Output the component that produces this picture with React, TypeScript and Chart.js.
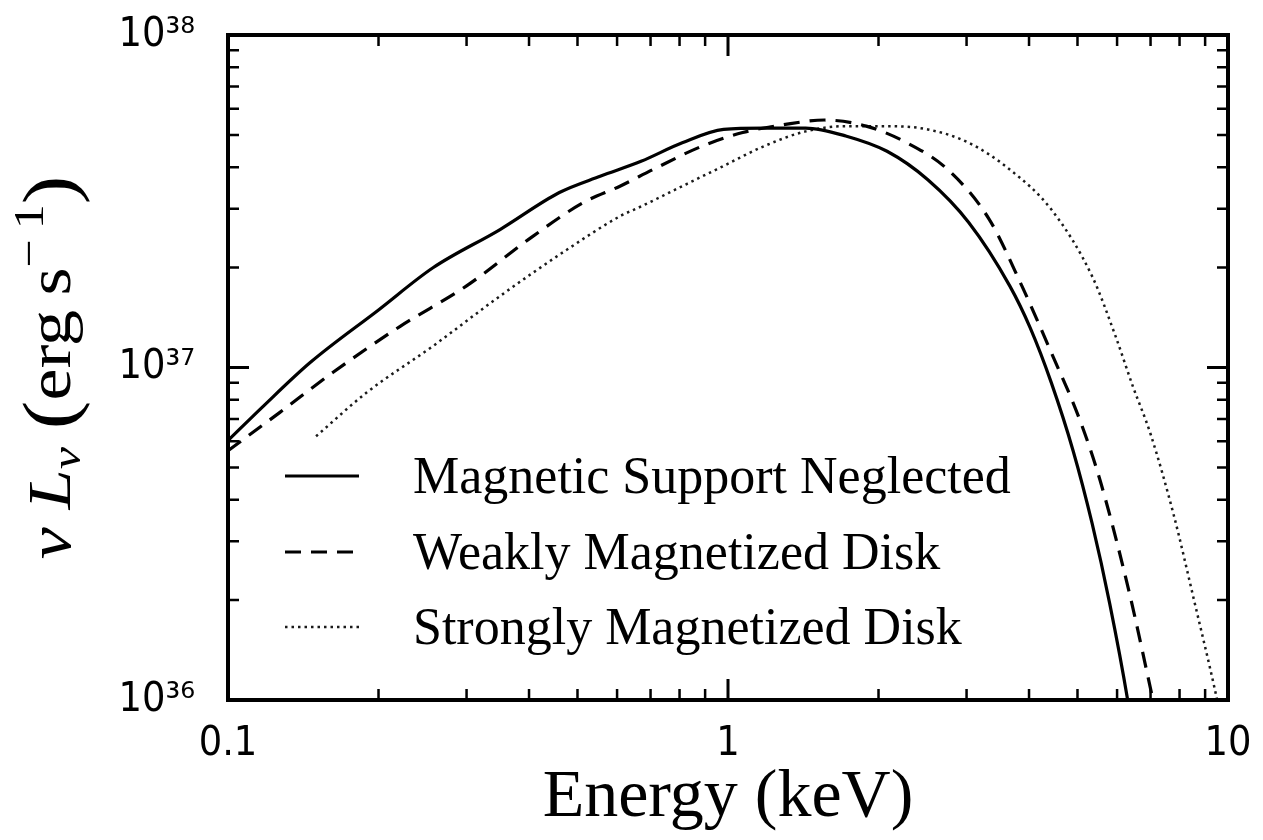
import React, { useEffect, useRef } from 'react';
import { Chart, registerables } from 'chart.js';

Chart.register(...registerables);

// ---- data ----
const neglectedEnergy = [0.1, 0.117, 0.146, 0.2, 0.257, 0.35, 0.46, 0.555, 0.67, 0.81, 0.98, 1.18, 1.43, 1.72, 2.08, 2.51, 3.03, 3.66, 4.02, 4.43, 4.9, 5.35, 5.8, 6.3, 6.45];
const neglectedLum = [6.03e36, 7.59e36, 1.035e37, 1.49e37, 1.995e37, 2.6e37, 3.36e37, 3.76e37, 4.17e37, 4.74e37, 5.2e37, 5.25e37, 5.25e37, 4.97e37, 4.47e37, 3.67e37, 2.73e37, 1.76e37, 1.318e37, 9.02e36, 5.62e36, 3.39e36, 1.95e36, 1.0e36, 0.79e36];

const weakEnergy = [0.1, 0.127, 0.162, 0.221, 0.3, 0.407, 0.513, 0.608, 0.708, 0.887, 1.07, 1.29, 1.56, 1.89, 2.28, 2.75, 3.33, 3.87, 4.43, 5.05, 5.55, 6.33, 7.08, 7.25];
const weakLum = [5.62e36, 7.33e36, 9.66e36, 1.33e37, 1.76e37, 2.48e37, 3.13e37, 3.51e37, 3.94e37, 4.63e37, 5.09e37, 5.37e37, 5.55e37, 5.32e37, 4.74e37, 3.94e37, 2.79e37, 1.76e37, 1.11e37, 6.98e36, 4.57e36, 2.14e36, 1.0e36, 0.85e36];

const strongEnergy = [0.15, 0.189, 0.257, 0.35, 0.476, 0.608, 0.67, 0.81, 0.977, 1.18, 1.43, 1.72, 2.08, 2.51, 3.03, 3.66, 4.43, 5.35, 5.96, 6.45, 7.0, 7.8, 8.55, 9.42, 9.65];
const strongLum = [6.21e36, 8.39e36, 1.16e37, 1.64e37, 2.26e37, 2.85e37, 3.05e37, 3.51e37, 4.03e37, 4.63e37, 5.13e37, 5.32e37, 5.32e37, 5.2e37, 4.74e37, 3.94e37, 2.99e37, 1.88e37, 1.24e37, 8.79e36, 6.31e36, 3.57e36, 2.0e36, 1.07e36, 0.9e36];

const seriesLabels = ['Magnetic Support Neglected', 'Weakly Magnetized Disk', 'Strongly Magnetized Disk'];

const xTickValues = [0.1, 0.2, 0.3, 0.4, 0.5, 0.6, 0.7, 0.8, 0.9, 1, 2, 3, 4, 5, 6, 7, 8, 9, 10];
const xMajorTicks = [0.1, 1, 10];
const xMajorLabels = ['0.1', '1', '10'];

const yTickValues = [1e36, 2e36, 3e36, 4e36, 5e36, 6e36, 7e36, 8e36, 9e36, 1e37, 2e37, 3e37, 4e37, 5e37, 6e37, 7e37, 8e37, 9e37, 1e38];
const yMajorTicks = [1e36, 1e37, 1e38];
const yMajorLabels = ['10\u00B3\u2076', '10\u00B3\u2077', '10\u00B3\u2078'];

const xTitle = 'Energy (keV)';

const SERIF = "'Liberation Serif', 'Times New Roman', serif";
const TICKFONT = "'DejaVu Sans Condensed', 'DejaVu Sans', sans-serif";

const sameLog = (a: number, b: number) => Math.abs(Math.log10(a) - Math.log10(b)) < 1e-6;

const toPoints = (xs: number[], ys: number[]) => xs.map((x, i) => ({ x, y: ys[i] }));

const zeroPadding = (s: any) => {
  s.paddingLeft = 0;
  s.paddingRight = 0;
  s.paddingTop = 0;
  s.paddingBottom = 0;
};

const framePlugin = {
  id: 'frameTicks',
  afterDatasetsDraw(chart: any) {
    const { ctx, chartArea, scales } = chart;
    const { left, right, top, bottom } = chartArea;
    const xs = scales.x;
    const ys = scales.y;
    ctx.save();
    ctx.strokeStyle = '#000';
    ctx.lineCap = 'butt';
    for (const v of xTickValues) {
      const px = xs.getPixelForValue(v);
      const major = xMajorTicks.some((m) => sameLog(m, v));
      const len = major ? 21 : 11;
      ctx.lineWidth = major ? 3 : 2.5;
      ctx.beginPath();
      ctx.moveTo(px, bottom);
      ctx.lineTo(px, bottom - len);
      ctx.moveTo(px, top);
      ctx.lineTo(px, top + len);
      ctx.stroke();
    }
    for (const v of yTickValues) {
      const py = ys.getPixelForValue(v);
      const major = yMajorTicks.some((m) => sameLog(m, v));
      const len = major ? 21 : 11;
      ctx.lineWidth = major ? 3 : 2.5;
      ctx.beginPath();
      ctx.moveTo(left, py);
      ctx.lineTo(left + len, py);
      ctx.moveTo(right, py);
      ctx.lineTo(right - len, py);
      ctx.stroke();
    }
    ctx.lineWidth = 4;
    ctx.strokeRect(left, top, right - left, bottom - top);
    ctx.restore();
  },
};

const legendPlugin = {
  id: 'insideLegend',
  afterDatasetsDraw(chart: any) {
    const { ctx, chartArea } = chart;
    const { left, top } = chartArea;
    const rows = [441, 517, 592];
    ctx.save();
    chart.data.datasets.forEach((ds: any, i: number) => {
      const y = top + rows[i];
      ctx.beginPath();
      ctx.strokeStyle = ds.borderColor;
      ctx.lineWidth = ds.borderWidth;
      ctx.setLineDash(ds.borderDash || []);
      ctx.moveTo(left + 57, y);
      ctx.lineTo(left + 131, y);
      ctx.stroke();
      ctx.setLineDash([]);
      ctx.fillStyle = '#000';
      ctx.font = `52px ${SERIF}`;
      ctx.textBaseline = 'alphabetic';
      ctx.textAlign = 'left';
      ctx.fillText(ds.label, left + 185, y + 17);
    });
    ctx.restore();
  },
};

const yTitlePlugin = {
  id: 'yTitle',
  afterDraw(chart: any) {
    const { ctx, chartArea } = chart;
    const cy = (chartArea.top + chartArea.bottom) / 2;
    const base = 72;
    const small = 50;
    const parts = [
      { t: '\u03BD', f: `italic ${base}px ${SERIF}`, dy: 0 },
      { t: ' ', f: `${base}px ${SERIF}`, dy: 0 },
      { t: 'L', f: `italic ${base}px ${SERIF}`, dy: 0 },
      { t: '\u03BD', f: `italic ${small}px ${SERIF}`, dy: 12 },
      { t: ' ', f: `${base}px ${SERIF}`, dy: 0 },
      { t: '(', f: `${base + 14}px ${SERIF}`, dy: 5 },
      { t: 'erg', f: `${base}px ${SERIF}`, dy: 0 },
      { t: '\u2009', f: `${base}px ${SERIF}`, dy: 0 },
      { t: 's', f: `${base}px ${SERIF}`, dy: 0 },
      { t: '\u2212\u2009' + '1', f: `${small}px ${SERIF}`, dy: -32 },
      { t: ')', f: `${base + 14}px ${SERIF}`, dy: 5 },
    ];
    ctx.save();
    let total = 0;
    const widths = parts.map((p) => {
      ctx.font = p.f;
      const w = ctx.measureText(p.t).width;
      total += w;
      return w;
    });
    ctx.translate(62, cy);
    ctx.rotate(-Math.PI / 2);
    ctx.scale(1, 0.85);
    ctx.fillStyle = '#000';
    ctx.textBaseline = 'alphabetic';
    ctx.textAlign = 'left';
    let x = -total / 2;
    parts.forEach((p, i) => {
      ctx.font = p.f;
      ctx.fillText(p.t, x, p.dy);
      x += widths[i];
    });
    ctx.restore();
  },
};

export default function App() {
  const ref = useRef<HTMLCanvasElement>(null);

  useEffect(() => {
    if (!ref.current) return;
    const chart = new Chart(ref.current, {
      type: 'line',
      data: {
        datasets: [
          {
            label: seriesLabels[0],
            data: toPoints(neglectedEnergy, neglectedLum),
            borderColor: '#000',
            borderWidth: 3.2,
            pointRadius: 0,
            fill: false,
            cubicInterpolationMode: 'monotone',
          },
          {
            label: seriesLabels[1],
            data: toPoints(weakEnergy, weakLum),
            borderColor: '#000',
            borderWidth: 3.2,
            borderDash: [16, 10],
            pointRadius: 0,
            fill: false,
            cubicInterpolationMode: 'monotone',
          },
          {
            label: seriesLabels[2],
            data: toPoints(strongEnergy, strongLum),
            borderColor: '#1a1a1a',
            borderWidth: 2.5,
            borderDash: [2.5, 4],
            pointRadius: 0,
            fill: false,
            cubicInterpolationMode: 'monotone',
          },
        ],
      } as any,
      options: {
        animation: false,
        responsive: false,
        devicePixelRatio: 1,
        layout: { padding: { top: 27, right: 27, left: 0, bottom: 0 } },
        plugins: { legend: { display: false }, tooltip: { enabled: false } },
        scales: {
          x: {
            type: 'logarithmic',
            position: 'bottom',
            min: 0.1,
            max: 10,
            afterBuildTicks: (s: any) => {
              s.ticks = xTickValues.map((v) => ({ value: v }));
            },
            afterFit: (s: any) => {
              s.height = 132;
              zeroPadding(s);
            },
            grid: { display: false },
            border: { display: false },
            ticks: {
              autoSkip: false,
              maxRotation: 0,
              minRotation: 0,
              padding: 12,
              color: '#000',
              font: { family: TICKFONT, size: 41 },
              callback: (value: any) => {
                const i = xMajorTicks.findIndex((m) => sameLog(m, Number(value)));
                return i >= 0 ? xMajorLabels[i] : '';
              },
            },
            title: {
              display: true,
              text: xTitle,
              color: '#000',
              font: { family: SERIF, size: 68, lineHeight: 1 },
              padding: { top: 0, bottom: 0 },
            },
          },
          y: {
            type: 'logarithmic',
            position: 'left',
            min: 1e36,
            max: 1e38,
            afterBuildTicks: (s: any) => {
              s.ticks = yTickValues.map((v) => ({ value: v }));
            },
            afterFit: (s: any) => {
              s.width = 220;
              zeroPadding(s);
            },
            grid: { display: false },
            border: { display: false },
            ticks: {
              autoSkip: false,
              padding: 25,
              color: '#000',
              font: { family: TICKFONT, size: 41 },
              callback: (value: any) => {
                const i = yMajorTicks.findIndex((m) => sameLog(m, Number(value)));
                return i >= 0 ? yMajorLabels[i] : '';
              },
            },
            title: { display: false },
          },
        },
      } as any,
      plugins: [framePlugin, legendPlugin, yTitlePlugin],
    });
    return () => chart.destroy();
  }, []);

  return <canvas ref={ref} width={1247} height={824} style={{ display: 'block' }} />;
}
